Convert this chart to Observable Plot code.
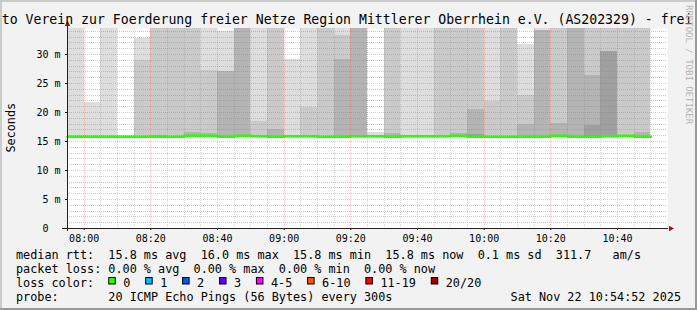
<!DOCTYPE html>
<html><head><meta charset="utf-8">
<script src="https://cdn.jsdelivr.net/npm/d3@7"></script>
<script src="https://cdn.jsdelivr.net/npm/@observablehq/plot@0.6"></script>
<style>
html,body{margin:0;padding:0;background:#f2f2f2;}
#wrap{position:relative;width:697px;height:310px;background:#f2f2f2;overflow:hidden;}
#wrap svg{position:absolute;left:0;top:0;}
</style></head><body><div id="wrap"></div>
<script>
// ---- data ----
const xDomain = ["07:55", "10:55"];
const times = ["07:55","08:00","08:05","08:10","08:15","08:20","08:25","08:30","08:35","08:40","08:45","08:50","08:55",
  "09:00","09:05","09:10","09:15","09:20","09:25","09:30","09:35","09:40","09:45","09:50","09:55",
  "10:00","10:05","10:10","10:15","10:20","10:25","10:30","10:35","10:40","10:45"];
// tops of the smoke layers (ms); null = layer not visible
const smokeLight   = [36,21.8,36,16.1,32.8,36,36,36,36,33.9,36,36,36,29.2,36,36,36,36,16.5,36,36,36,36,36,36,36,36,31.8,36,36,36,36,36,36,36];
const smokeMedium  = [16.1,16.0,16.0,null,28.9,36,36,36,27.3,27.1,36,18.5,36,null,20.8,36,33.3,36,null,36,null,null,36,36,36,21.9,36,23.0,34.2,36,36,36,36,36,36];
const smokeDark    = [null,null,null,null,null,16.1,null,16.5,16.3,27.1,36,null,17.0,null,null,null,29.2,36,null,16.3,null,null,null,16.3,20.5,null,null,17.9,34.2,18.1,34.5,26.3,30.6,null,16.6];
const smokeDarkest = [null,null,null,null,null,null,null,null,null,null,null,null,null,null,null,null,null,null,null,null,null,null,null,null,16.2,null,null,null,null,null,null,17.7,30.6,null,null];
const medianRtt    = [15.8,15.8,15.8,15.8,15.8,15.8,15.8,16.0,16.0,15.8,16.0,15.9,15.8,15.9,15.9,15.8,15.8,15.9,15.9,15.8,15.9,15.9,15.9,16.0,15.8,15.8,15.8,15.8,15.8,16.0,15.8,15.8,15.9,16.0,15.8];
const smokeBase = 15.7;
const yTicks = [0,5,10,15,20,25,30];
const yMax = 34.48;

const titleText = "to Verein zur Foerderung freier Netze Region Mittlerer Oberrhein e.V. (AS202329) - frei";
const statLines = [
  "median rtt:  15.8 ms avg  16.0 ms max  15.8 ms min  15.8 ms now  0.1 ms sd  311.7   am/s",
  "packet loss: 0.00 % avg  0.00 % max  0.00 % min  0.00 % now"
];
const lossLabels = ["0","1","2","3","4-5","6-10","11-19","20/20"];
const lossColors = ["#26ff00","#00b8ff","#0059ff","#5e00ff","#ff00ff","#ff5500","#ff0000","#a00000"];
const probeText = "probe:       20 ICMP Echo Pings (56 Bytes) every 300s";
const dateText = "Sat Nov 22 10:54:52 2025";

// ---- build ----
const parse = s => new Date(`2025-11-22T${s}:00Z`);
const T = times.map(parse);
const xd0 = parse(xDomain[0]), xd1 = parse(xDomain[1]);
const step = 5 * 60 * 1000;
const shades = ["#dddddd", "#cacaca", "#b4b4b4", "#a0a0a0"];
const layers = [smokeLight, smokeMedium, smokeDark, smokeDarkest];
const smoke = [];
layers.forEach((arr, k) => arr.forEach((top, i) => {
  if (top != null) smoke.push({t0: T[i], t1: new Date(+T[i] + step), y1: smokeBase, y2: top, c: shades[k]});
}));
const medPts = T.map((t, i) => ({t, v: medianRtt[i]}));
medPts.push({t: new Date(+T[T.length - 1] + step), v: medianRtt[medianRtt.length - 1]});

const minorX = d3.utcMinute.every(5).range(xd0, xd1).filter(d => d.getUTCMinutes() % 20 !== 0);
const majorX = d3.utcMinute.every(20).range(xd0, xd1);
const minorY = d3.range(1, 35).filter(v => v % 5 !== 0);
const majorY = yTicks.filter(v => v > 0);

const triUp = {draw(ctx) { ctx.moveTo(0, -8); ctx.lineTo(2.7, -2.5); ctx.lineTo(-2.7, -2.5); ctx.closePath(); }};
const triRight = {draw(ctx) { ctx.moveTo(6.5, 0); ctx.lineTo(1.5, -2.7); ctx.lineTo(1.5, 2.7); ctx.closePath(); }};

const plot = Plot.plot({
  width: 697, height: 310,
  marginLeft: 67, marginRight: 30, marginTop: 28, marginBottom: 82,
  style: {background: "transparent", fontFamily: "DejaVu Sans Mono", fontSize: "10px", color: "#000", overflow: "visible"},
  x: {type: "utc", domain: [xd0, xd1], ticks: majorX, tickFormat: d3.utcFormat("%H:%M"), tickSize: 2, tickPadding: 4, label: null},
  y: {domain: [0, yMax], ticks: yTicks, tickFormat: d => d === 0 ? "0\u00a0\u00a0" : d + " m", tickSize: 2, tickPadding: 5, label: null},
  marks: [
    Plot.frame({fill: "white"}),
    Plot.rect(smoke, {x1: "t0", x2: "t1", y1: "y1", y2: "y2", fill: "c", clip: true, shapeRendering: "crispEdges"}),
    Plot.ruleX(minorX, {stroke: "#808080", strokeOpacity: 0.32, strokeDasharray: "1,1", shapeRendering: "crispEdges"}),
    Plot.ruleY(minorY, {stroke: "#808080", strokeOpacity: 0.4, strokeDasharray: "1,1", shapeRendering: "crispEdges"}),
    Plot.ruleX(majorX, {stroke: "#ff3030", strokeOpacity: 0.25, strokeDasharray: "1,1", shapeRendering: "crispEdges"}),
    Plot.ruleY(majorY, {stroke: "#ff3030", strokeOpacity: 0.3, strokeDasharray: "1,1", shapeRendering: "crispEdges"}),
    Plot.line(medPts, {x: "t", y: "v", curve: "step-after", stroke: "#26ff00", strokeWidth: 2.5}),
    Plot.ruleY([0], {stroke: "#222", insetLeft: -5, insetRight: -1, shapeRendering: "crispEdges"}),
    Plot.ruleX([xd0], {stroke: "#222", insetTop: -4, insetBottom: -3, shapeRendering: "crispEdges"}),
    Plot.dot([{t: xd0, v: yMax}], {x: "t", y: "v", symbol: triUp, r: 3, fill: "#9b1010", stroke: "none"}),
    Plot.dot([{t: xd1, v: 0}], {x: "t", y: "v", symbol: triRight, r: 3, fill: "#9b1010", stroke: "none"})
  ]
});
const wrap = document.getElementById("wrap");
wrap.appendChild(plot);

// ---- overlay texts ----
const ov = d3.create("svg").attr("width", 697).attr("height", 310)
  .style("font-family", "DejaVu Sans Mono");
ov.append("text").attr("x", 1.7).attr("y", 23.5).attr("font-size", "13.2px").attr("fill", "#000")
  .style("white-space", "pre").text(titleText);
ov.append("text").attr("transform", "translate(15,127.7) rotate(-90)").attr("text-anchor", "middle")
  .attr("font-size", "11.8px").attr("fill", "#000").text("Seconds");
ov.append("text").attr("transform", "translate(685.5,5) rotate(90)").attr("font-size", "9px")
  .attr("fill", "#b4b4b4").style("white-space", "pre").text("RRDTOOL / TOBI OETIKER");
const lx = 16, pitch = 7.12;
statLines.forEach((s, i) => {
  ov.append("text").attr("x", lx).attr("y", 258.5 + 14 * i).attr("font-size", "11.8px").attr("fill", "#000")
    .style("white-space", "pre").text(s);
});
ov.append("text").attr("x", lx).attr("y", 286.5).attr("font-size", "11.8px").attr("fill", "#000").text("loss color:");
let bx = lx + 13 * pitch - 0.3;
lossLabels.forEach((lab, i) => {
  ov.append("rect").attr("x", bx + 0.5).attr("y", 277.5).attr("width", 6.5).attr("height", 6.5)
    .attr("fill", lossColors[i]).attr("stroke", "#000").attr("stroke-width", 1);
  ov.append("text").attr("x", bx + 15).attr("y", 286.5).attr("font-size", "11.8px").attr("fill", "#000").text(lab);
  bx += 29.8 + pitch * lab.length;
});
ov.append("text").attr("x", lx).attr("y", 300.5).attr("font-size", "11.8px").attr("fill", "#000")
  .style("white-space", "pre").text(probeText);
ov.append("text").attr("x", 681).attr("y", 300.5).attr("text-anchor", "end").attr("font-size", "11.8px").attr("fill", "#000").text(dateText);
// frame shading
ov.append("rect").attr("x", 0).attr("y", 0).attr("width", 697).attr("height", 2).attr("fill", "#cbcbcb");
ov.append("rect").attr("x", 0).attr("y", 0).attr("width", 2).attr("height", 310).attr("fill", "#cbcbcb");
ov.append("rect").attr("x", 695).attr("y", 0).attr("width", 2).attr("height", 310).attr("fill", "#999999");
ov.append("rect").attr("x", 0).attr("y", 308).attr("width", 697).attr("height", 2).attr("fill", "#999999");
wrap.appendChild(ov.node());
</script></body></html>
